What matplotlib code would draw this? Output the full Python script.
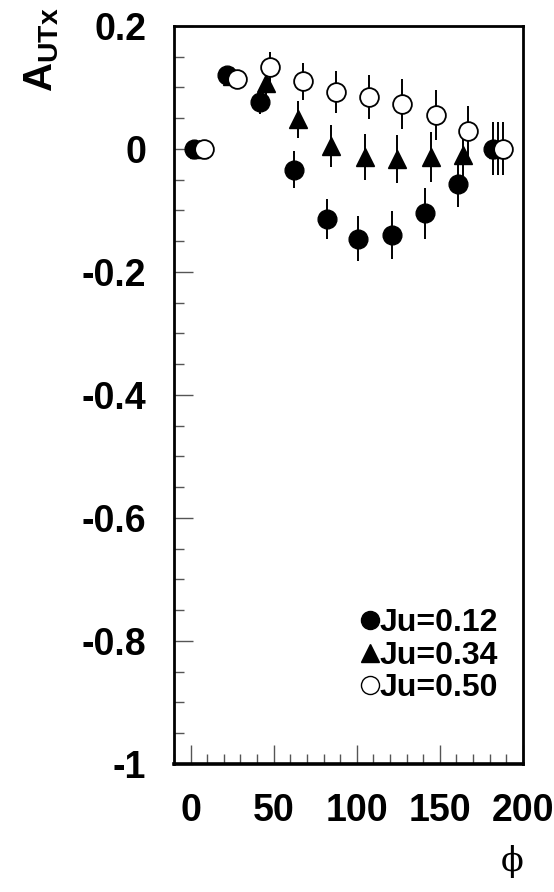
import numpy as np
import matplotlib
matplotlib.use("Agg")
import matplotlib.pyplot as plt
from matplotlib.ticker import MultipleLocator
from matplotlib.lines import Line2D

plt.rcParams['font.family'] = ['Liberation Sans', 'DejaVu Sans']
plt.rcParams['font.weight'] = 'bold'
plt.rcParams['mathtext.fontset'] = 'custom'
plt.rcParams['mathtext.rm'] = 'Liberation Sans:bold'
plt.rcParams['mathtext.bf'] = 'Liberation Sans:bold'
plt.rcParams['mathtext.it'] = 'Liberation Sans:bold'

# Ju = 0.12 (filled circles)
phi_012 = [2, 22, 42, 62, 82, 101, 121, 141, 161, 182]
a_012 = [0.0, 0.120, 0.076, -0.034, -0.114, -0.146, -0.140, -0.105, -0.057, 0.0]
e_012 = [0.008, 0.010, 0.020, 0.030, 0.033, 0.037, 0.039, 0.041, 0.038, 0.043]

# Ju = 0.34 (filled triangles)
phi_034 = [5, 25, 45.5, 64.7, 84.7, 104.8, 124.3, 144.6, 164, 185]
a_034 = [0.0, 0.118, 0.107, 0.048, 0.005, -0.013, -0.017, -0.013, -0.010, 0.0]
e_034 = [0.008, 0.010, 0.020, 0.030, 0.034, 0.037, 0.039, 0.041, 0.042, 0.043]

# Ju = 0.50 (open circles)
phi_050 = [8, 28, 48, 67.7, 87.8, 107.4, 127.3, 147.4, 167, 188]
a_050 = [0.0, 0.114, 0.133, 0.110, 0.092, 0.084, 0.073, 0.055, 0.029, 0.0]
e_050 = [0.008, 0.010, 0.024, 0.030, 0.034, 0.036, 0.040, 0.041, 0.041, 0.043]

labels = ['Ju=0.12', 'Ju=0.34', 'Ju=0.50']

ytick_vals = [0.2, 0, -0.2, -0.4, -0.6, -0.8, -1]
ytick_text = ['0.2', '0', '-0.2', '-0.4', '-0.6', '-0.8', '-1']
xtick_vals = [0, 50, 100, 150, 200]

fig = plt.figure(figsize=(5.54, 8.92), dpi=100)
ax = fig.add_axes([0.314, 0.1435, 0.63, 0.8275])

ekw = dict(ls='none', ecolor='black', elinewidth=1.4, capsize=0, zorder=3)
ax.errorbar(phi_012, a_012, yerr=e_012, marker='o', ms=13.5, mfc='black',
            mec='black', **ekw)
ax.errorbar(phi_034, a_034, yerr=e_034, marker='^', ms=13.5, mfc='black',
            mec='black', **ekw)
ax.errorbar(phi_050, a_050, yerr=e_050, marker='o', ms=13.5, mfc='white',
            mec='black', mew=1.3, **ekw)

ax.set_xlim(-10, 200)
ax.set_ylim(-1, 0.2)

ax.set_xticks(xtick_vals)
ax.set_xticklabels([str(v) for v in xtick_vals])
ax.xaxis.set_minor_locator(MultipleLocator(10))
ax.set_yticks(ytick_vals)
ax.set_yticklabels(ytick_text)
ax.yaxis.set_minor_locator(MultipleLocator(0.05))

ax.tick_params(axis='both', which='major', direction='in', length=14,
               width=1.0, color='#555555', labelsize=27)
ax.tick_params(axis='both', which='minor', direction='in', length=7,
               width=1.0, color='#555555')
ax.tick_params(axis='y', which='both', right=False, pad=20)
ax.tick_params(axis='x', which='both', top=False, pad=21)

for s in ax.spines.values():
    s.set_linewidth(2.0)
ax.spines['bottom'].set_linewidth(2.6)

# legend handles without error bars
handles = [
    Line2D([], [], ls='none', marker='o', ms=13, mfc='black', mec='black'),
    Line2D([], [], ls='none', marker='^', ms=13, mfc='black', mec='black'),
    Line2D([], [], ls='none', marker='o', ms=13, mfc='white', mec='black', mew=1.0),
]
ax.legend(handles, labels, loc='lower right', bbox_to_anchor=(0.965, 0.065),
          frameon=False, handlelength=0.6, handletextpad=0.0,
          labelspacing=0.08, borderaxespad=0,
          prop={'weight': 'bold', 'size': 23})

fig.text(42 / 554, 1 - 50 / 892, r'$\mathbf{A_{UTx}}$', rotation=90,
         ha='center', va='center', fontsize=29)
fig.text(512 / 554, 1 - 862 / 892, '\u03d5', family='DejaVu Serif',
         fontweight='normal', ha='center', va='center', fontsize=24)

fig.savefig('out.png', dpi=100)
